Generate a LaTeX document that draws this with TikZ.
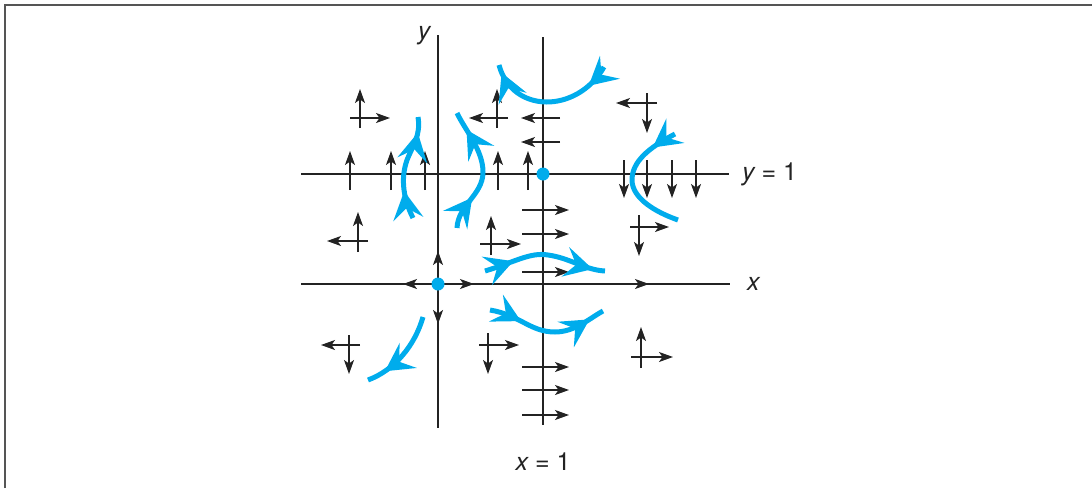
\documentclass[tikz,border=0pt]{standalone}
\usepackage{fontspec}
\setmainfont{TeX Gyre Heros}
\usetikzlibrary{arrows.meta,decorations.markings}
\definecolor{cyanb}{RGB}{0,172,236}
\definecolor{ink}{RGB}{35,35,35}
\definecolor{framec}{RGB}{85,85,85}
\tikzset{
 ax/.style={draw=ink, line width=1.5pt},
 farr/.style={draw=ink, line width=1.3pt, -{Stealth[length=14pt,width=10pt,inset=3.5pt]}},
 flow/.style={color=cyanb, line width=5pt},
 bh/.style={postaction={decorate,decoration={markings,mark=at position #1 with {\arrow{Stealth[length=28pt,width=30pt,inset=11pt]}}}}},
 lbl/.style={font=\fontsize{25}{30}\selectfont, inner sep=0pt, text=ink},
 dot/.style={circle, fill=cyanb, minimum size=13pt, inner sep=0pt}
}
\begin{document}
\begin{tikzpicture}[x=1pt,y=-1pt]
\useasboundingbox (0,0) rectangle (1092,488);
\draw[line width=2pt, draw=framec] (5,488) -- (5,5) -- (1092,5);

% axes and lines
\coordinate (O) at (438,284);
\coordinate (P) at (543,174);
\draw[ax] (438,35) -- (438,428);
\draw[ax] (543,37) -- (543,425);
\draw[ax] (301,284) -- (730,284);
\draw[ax] (301,174) -- (729,174);

% arrows on axes
\draw[farr] (O) -- (403,284);
\draw[farr] (O) -- (474,284);
\draw[farr] (O) -- (438,251);
\draw[farr] (O) -- (438,324);
\draw[farr] (600,284) -- (649,284);

% labels
\node[lbl] (ly) at (424,36) {\itshape y};
\node[lbl, anchor=west] (ly1) at (742,174) {\itshape y\upshape\ = 1};
\node[lbl, anchor=west] (lx) at (747,284) {\itshape x};
\node[lbl] (lx1) at (543,462) {\itshape x\upshape\ = 1};

% small direction crosses
\draw[farr] (360,128) -- (360,89);
\draw[farr] (350,118) -- (390,118);
\draw[farr] (497,128) -- (497,89);
\draw[farr] (508,118) -- (469,118);
\draw[farr] (560,118) -- (521,118);
\draw[farr] (560,142) -- (521,142);
\foreach \xx in {350,391,425,498,528} \draw[farr] (\xx,190) -- (\xx,151);
\draw[farr] (647,93) -- (647,133);
\draw[farr] (657,103) -- (616,103);
\foreach \xx in {624,647,672,696} \draw[farr] (\xx,160) -- (\xx,198);
\foreach \yy in {210,234,272,367,390,415} \draw[farr] (522,\yy) -- (569,\yy);
\draw[farr] (491,255) -- (491,216);
\draw[farr] (480,244) -- (521,244);
\draw[farr] (358,252) -- (358,212);
\draw[farr] (368,241) -- (327,241);
\draw[farr] (639,215) -- (639,256);
\draw[farr] (630,227) -- (669,227);
\draw[farr] (349,335) -- (349,374);
\draw[farr] (360,345) -- (321,345);
\draw[farr] (488,333) -- (488,374);
\draw[farr] (479,345) -- (519,345);
\draw[farr] (641,368) -- (641,327);
\draw[farr] (631,357) -- (673,357);

% blue trajectories
\draw[flow, bh=0.18, bh=0.94] (604,67) .. controls (577,114) and (512,114) .. (499,65);
\draw[flow, bh=0.2] (675,134) .. controls (648,148) and (632,162) .. (632,180) .. controls (632,198) and (655,212) .. (678,220);
\draw[flow, bh=0.27, bh=0.85] (413,218) .. controls (404,200) and (400,180) .. (407,160) .. controls (413,145) and (421,135) .. (418,117);
\draw[flow, bh=0.27, bh=0.85] (457,228) .. controls (458,205) and (483,195) .. (483,172) .. controls (483,150) and (465,130) .. (457,113);
\draw[flow, bh=0.24, bh=0.9] (485,271) .. controls (515,262) and (530,252) .. (548,255) .. controls (570,258) and (585,270) .. (605,271);
\draw[flow, bh=0.27, bh=0.87] (490,310) .. controls (520,315) and (530,332) .. (555,332) .. controls (575,332) and (590,318) .. (603,311);
\draw[flow, bh=0.78] (423,317) .. controls (415,345) and (395,370) .. (368,380);

% equilibrium points
\node[dot] (e0) at (O) {};
\node[dot] (e1) at (P) {};
\end{tikzpicture}
\end{document}
